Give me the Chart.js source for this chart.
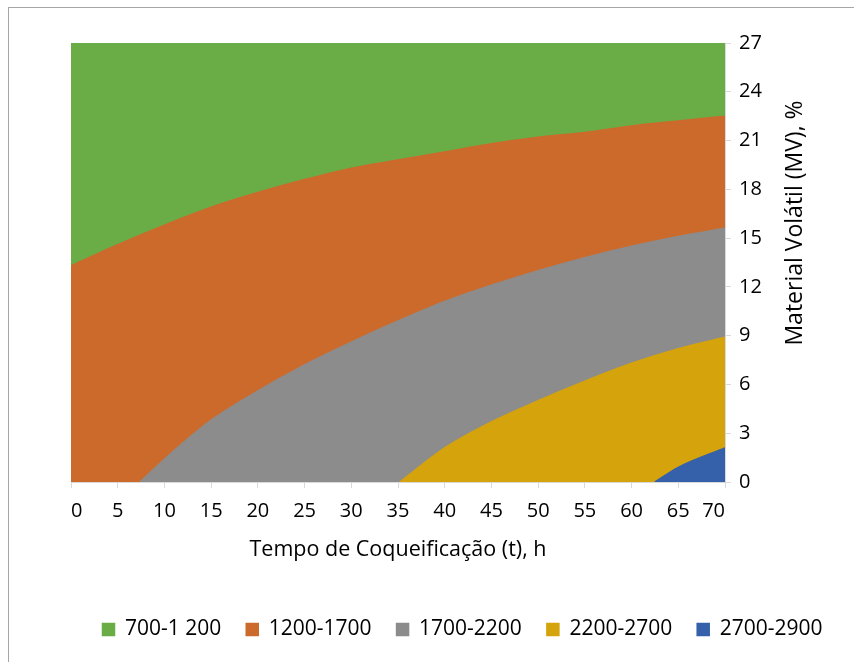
<!DOCTYPE html>
<html>
<head>
<meta charset="utf-8">
<script src="https://cdn.jsdelivr.net/npm/chart.js@4.4.1/dist/chart.umd.min.js"></script>
<style>
  html, body { margin: 0; padding: 0; background: #ffffff; }
  #wrap { position: relative; width: 854px; height: 662px; }
</style>
</head>
<body>
<div id="wrap"><canvas id="c" width="854" height="662"></canvas></div>
<script>
// Contour boundaries of the response surface, MV (%) versus coking time (h)
const faixas = ['700-1 200', '1200-1700', '1700-2200', '2200-2700', '2700-2900'];
const cores = ['#6aad47', '#cc6a2c', '#8c8c8c', '#d5a30c', '#3461aa'];

// boundary 1200 (700-1 200 above / 1200-1700 below)
const t1200 = [0, 5, 10, 15, 20, 25, 30, 35, 40, 45, 50, 55, 60, 65, 70];
const mv1200 = [13.3, 14.6, 15.8, 16.9, 17.8, 18.6, 19.3, 19.8, 20.3, 20.8, 21.2, 21.5, 21.9, 22.2, 22.5];

// boundary 1700
const t1700 = [7.4, 10, 15, 20, 25, 30, 35, 40, 45, 50, 55, 60, 65, 70];
const mv1700 = [0, 1.4, 3.8, 5.6, 7.2, 8.6, 9.9, 11.1, 12.1, 13.0, 13.8, 14.5, 15.1, 15.6];

// boundary 2200
const t2200 = [35.2, 40, 45, 50, 55, 60, 65, 70];
const mv2200 = [0, 2.1, 3.7, 5.0, 6.2, 7.3, 8.2, 8.9];

// boundary 2700
const t2700 = [62.5, 65, 70];
const mv2700 = [0, 0.9, 2.1];

// axis ticks
const xTicks = [0, 5, 10, 15, 20, 25, 30, 35, 40, 45, 50, 55, 60, 65, 70];
const yTicks = [0, 3, 6, 9, 12, 15, 18, 21, 24, 27];

const xTitle = 'Tempo de Coqueificação (t), h';
const yTitle = 'Material Volátil (MV), %';

const FONT = "'Open Sans', 'Noto Sans', sans-serif";

function pts(xs, ys) { return xs.map((x, i) => ({ x: x, y: ys[i] })); }

function band(label, color, xs, ys, fill) {
  return {
    label: label,
    data: pts(xs, ys),
    backgroundColor: color,
    borderColor: color,
    borderWidth: 1.5,
    pointRadius: 0,
    pointHoverRadius: 0,
    fill: fill,
    cubicInterpolationMode: 'monotone'
  };
}

// dataset 0 is painted last, so the highest range comes first
const datasets = [
  band(faixas[4], cores[4], t2700, mv2700, 'start'),
  band(faixas[3], cores[3], t2200, mv2200, 'start'),
  band(faixas[2], cores[2], t1700, mv1700, 'start'),
  band(faixas[1], cores[1], t1200, mv1200, 'start'),
  band(faixas[0], cores[0], t1200, mv1200, 'end')
];

// outer frame and the rotated right-hand axis title
const decor = {
  id: 'decor',
  beforeDraw(chart) {
    const ctx = chart.ctx;
    ctx.save();
    ctx.strokeStyle = '#a6a6a6';
    ctx.lineWidth = 1;
    ctx.strokeRect(8.5, 7.5, 900, 700);
    ctx.restore();
  },
  afterDraw(chart) {
    const ctx = chart.ctx;
    const a = chart.chartArea;
    ctx.save();
    ctx.translate(a.right + 70, a.top + 180);
    ctx.rotate(-Math.PI / 2);
    ctx.fillStyle = '#000000';
    ctx.font = '23px ' + FONT;
    ctx.textAlign = 'center';
    ctx.textBaseline = 'middle';
    ctx.fillText(yTitle, 0, 0);
    ctx.restore();
  }
};

new Chart(document.getElementById('c'), {
  type: 'line',
  data: { datasets: datasets },
  plugins: [decor],
  options: {
    responsive: false,
    animation: false,
    events: [],
    layout: { padding: { left: 71, top: 43, right: 0, bottom: 12 } },
    plugins: {
      tooltip: { enabled: false },
      legend: {
        position: 'bottom',
        reverse: true,
        labels: {
          color: '#000000',
          font: { family: FONT, size: 21 },
          boxWidth: 12,
          boxHeight: 12,
          padding: 25
        }
      }
    },
    scales: {
      x: {
        type: 'linear',
        min: 0,
        max: 70,
        afterBuildTicks(scale) { scale.ticks = xTicks.map(v => ({ value: v })); },
        afterFit(scale) { scale.height = 112; },
        ticks: {
          align: 'inner',
          color: '#000000',
          font: { family: FONT, size: 20 },
          padding: 11,
          maxRotation: 0,
          autoSkip: false
        },
        grid: { drawOnChartArea: false, drawTicks: true, tickLength: 6, color: '#d9d9d9' },
        border: { color: '#d9d9d9' },
        title: {
          display: true,
          text: xTitle,
          color: '#000000',
          font: { family: FONT, size: 21.5 },
          padding: { top: 4, bottom: 31 }
        }
      },
      y: {
        type: 'linear',
        position: 'right',
        min: 0,
        max: 27,
        afterBuildTicks(scale) { scale.ticks = yTicks.map(v => ({ value: v })); },
        afterFit(scale) { scale.width = 129; },
        ticks: {
          color: '#000000',
          font: { family: FONT, size: 20 },
          padding: 8,
          autoSkip: false
        },
        grid: { drawOnChartArea: false, drawTicks: true, tickLength: 6, color: '#d9d9d9' },
        border: { color: '#d9d9d9' }
      }
    }
  }
});
</script>
</body>
</html>
